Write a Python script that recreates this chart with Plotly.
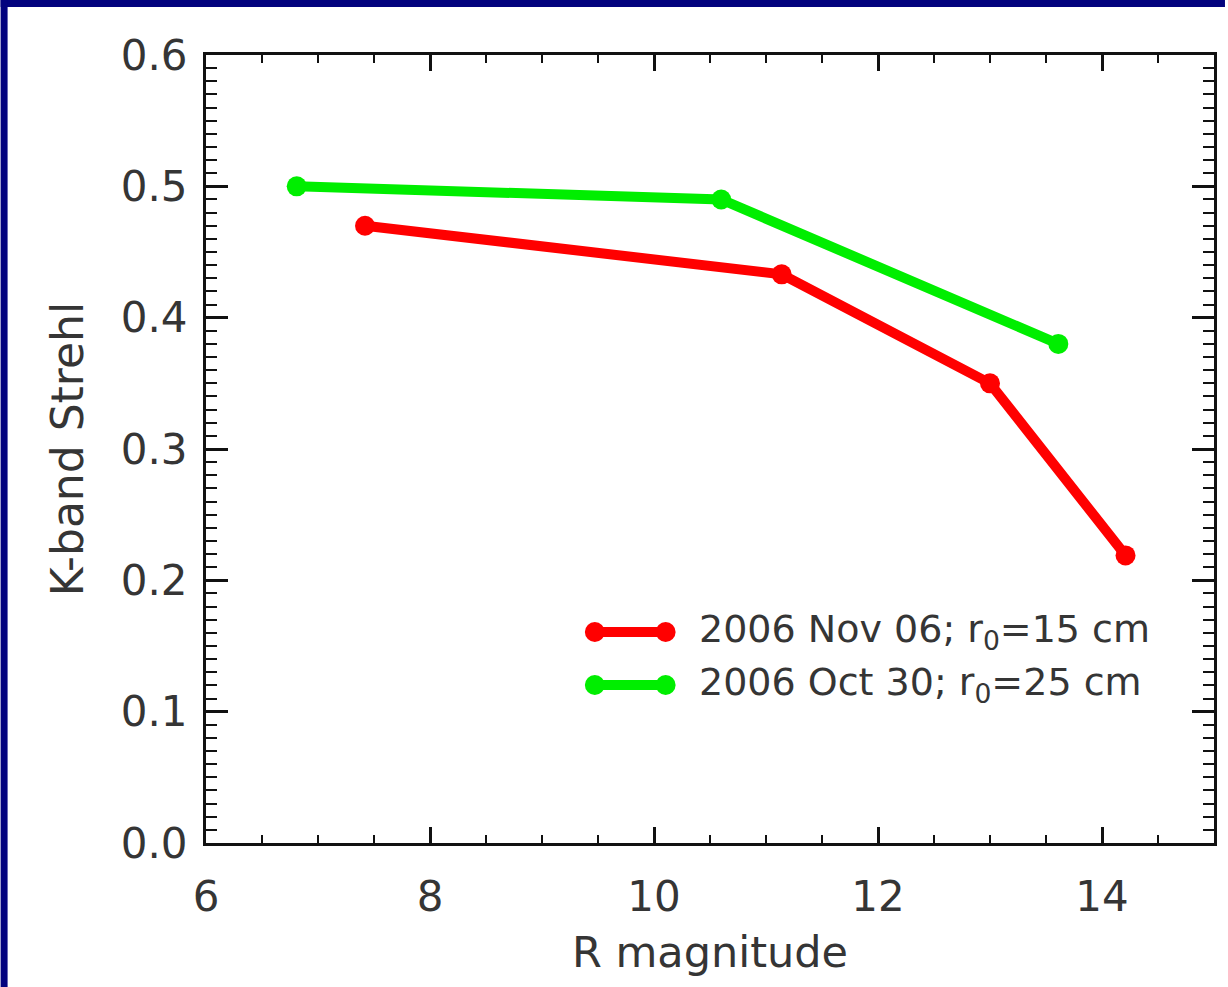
import plotly.graph_objects as go

# Data
nov_x = [7.42, 11.14, 13.0, 14.21]
nov_y = [0.470, 0.433, 0.350, 0.219]
oct_x = [6.81, 10.60, 13.61]
oct_y = [0.500, 0.490, 0.380]

series_names = ["2006 Nov 06; r<sub>0</sub>=15 cm", "2006 Oct 30; r<sub>0</sub>=25 cm"]
series_colors = ["#ff0000", "#00ee00"]

x_ticks = [6, 8, 10, 12, 14]
y_ticks = [0.0, 0.1, 0.2, 0.3, 0.4, 0.5, 0.6]
y_ticklabels = ["0.0", "0.1", "0.2", "0.3", "0.4", "0.5", "0.6"]

W, H = 1228, 987
L, R, T, B = 206, 1217, 55, 843
PW, PH = R - L, B - T
NAVY = "#03037e"

def px_x(p):
    return (p - L) / PW

def px_y(p):
    return (B - p) / PH

FONT = "DejaVu Sans"
TXT = "#353535"

fig = go.Figure()
for xs, ys, name, col in [(nov_x, nov_y, series_names[0], series_colors[0]),
                          (oct_x, oct_y, series_names[1], series_colors[1])]:
    fig.add_trace(go.Scatter(
        x=xs, y=ys, mode="lines+markers", name=name,
        line=dict(color=col, width=10),
        marker=dict(color=col, size=20, symbol="circle"),
        showlegend=False,
    ))

shapes = [
    # navy frame bands (top and left)
    dict(type="rect", xref="paper", yref="paper", layer="below",
         x0=px_x(0), x1=px_x(W), y0=px_y(7), y1=px_y(0),
         fillcolor=NAVY, line=dict(width=0)),
    dict(type="rect", xref="paper", yref="paper", layer="below",
         x0=px_x(0), x1=px_x(7), y0=px_y(H), y1=px_y(0),
         fillcolor=NAVY, line=dict(width=0)),
]
annotations = []
# custom legend (line with marker at both ends)
leg_rows = [(632, series_names[0], series_colors[0]), (685, series_names[1], series_colors[1])]
for py, name, col in leg_rows:
    shapes.append(dict(type="line", xref="paper", yref="paper",
                       x0=px_x(596), x1=px_x(667), y0=px_y(py), y1=px_y(py),
                       line=dict(color=col, width=10)))
    for cx in (596, 667):
        shapes.append(dict(type="circle", xref="paper", yref="paper",
                           x0=px_x(cx - 10), x1=px_x(cx + 10),
                           y0=px_y(py + 10), y1=px_y(py - 10),
                           fillcolor=col, line=dict(width=0)))
    annotations.append(dict(xref="paper", yref="paper", x=px_x(698), y=px_y(py - 1),
                            xanchor="left", yanchor="middle", showarrow=False,
                            text=name, font=dict(family=FONT, size=38, color=TXT)))

fig.update_layout(
    width=W, height=H,
    margin=dict(l=L, r=W - R, t=T, b=H - B, pad=0),
    paper_bgcolor="white",
    plot_bgcolor="white",
    shapes=shapes,
    annotations=annotations,
    font=dict(family=FONT, size=42, color=TXT),
)

fig.update_xaxes(
    range=[6, 15], tickmode="array", tickvals=x_ticks,
    ticks="inside", ticklen=16, tickwidth=2.5, tickcolor="#111",
    minor=dict(dtick=0.5, ticks="inside", ticklen=8, tickwidth=2, tickcolor="#111"),
    showline=True, linecolor="#111", linewidth=3, mirror="ticks",
    showgrid=False, zeroline=False,
    tickfont=dict(family=FONT, size=42, color=TXT),
    ticklabelstandoff=15,
    title=dict(text="R magnitude", font=dict(family=FONT, size=43, color=TXT), standoff=17),
)
fig.update_yaxes(
    range=[0, 0.6], tickmode="array", tickvals=y_ticks, ticktext=y_ticklabels,
    ticks="inside", ticklen=22, tickwidth=2.5, tickcolor="#111",
    minor=dict(dtick=0.01, ticks="inside", ticklen=11, tickwidth=2, tickcolor="#111"),
    showline=True, linecolor="#111", linewidth=3, mirror="ticks",
    showgrid=False, zeroline=False,
    tickfont=dict(family=FONT, size=42, color=TXT),
    ticklabelstandoff=7,
    title=dict(text="K-band Strehl", font=dict(family=FONT, size=44, color=TXT), standoff=24),
)

fig.write_html("out.html", config={"displayModeBar": False},
               post_script="document.body.style.margin='0';document.body.style.overflow='hidden';document.body.style.background='white';")
